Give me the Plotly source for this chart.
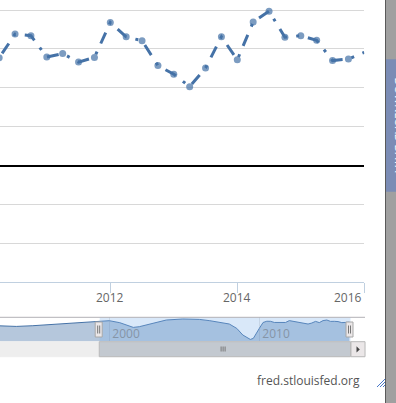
import plotly.graph_objects as go

W, H = 396, 403

# ---------------- data ----------------
# main series (quarterly, decimal years)
dates = [2010.25, 2010.5, 2010.75, 2011.0, 2011.25, 2011.5, 2011.75, 2012.0,
         2012.25, 2012.5, 2012.75, 2013.0, 2013.25, 2013.5, 2013.75, 2014.0,
         2014.25, 2014.5, 2014.75, 2015.0, 2015.25, 2015.5, 2015.75, 2016.0]
values = [2.77, 3.38, 3.34, 2.79, 2.88, 2.66, 2.78, 3.68,
          3.31, 3.21, 2.57, 2.35, 2.03, 2.51, 3.31, 2.72,
          3.69, 3.97, 3.30, 3.34, 3.22, 2.70, 2.74, 2.91]

# navigator history (earlier part of the same series, read from the navigator)
nav_dates = [1992.5, 1993.8, 1994.9, 1996.0, 1997.2, 1998.3, 1999.3, 2000.0,
             2000.7, 2001.6, 2002.0, 2002.7, 2003.4, 2003.8, 2004.9, 2006.0,
             2006.7, 2007.4, 2008.0, 2008.5, 2008.9, 2009.4, 2009.6, 2010.0]
nav_values = [1.2, 0.87, 1.21, 1.70, 2.18, 2.57, 3.11, 3.64,
              2.67, 0.39, 0.73, 2.04, 3.16, 3.98, 4.47, 4.27,
              3.64, 2.67, 2.04, -0.10, -3.30, -5.44, -4.95, -0.10]

x_ticks = [2012, 2014, 2016]
nav_ticks = [2000, 2010]

# view state
main_range = [2010.263, 2016.0]
y_range = [-3.0, 4.257]
nav_range = [1992.713, 2017.047]
nav_floor, nav_ceil = -6.55, 5.29
sel_start, sel_end = 1999.36, 2016.08

# ---------------- styling ----------------
BLUE = "#4572A7"
FONT = "Open Sans"
DASH = "0px,5.3px,12px,9px,3px,3.7px"   # Highcharts DashDot at width 3


def px(x):
    return x / W


def py(y):
    return 1 - y / H


marker_sizes = [7 if t < main_range[1] - 1e-6 else 0 for t in dates]

fig = go.Figure()

fig.add_trace(go.Scatter(
    x=dates, y=values, mode="lines+markers",
    line=dict(color=BLUE, width=3, dash=DASH),
    marker=dict(size=marker_sizes, color=BLUE, line=dict(width=0)),
    xaxis="x", yaxis="y", hoverinfo="skip", showlegend=False))

nav_x = nav_dates + dates
nav_y = [v - nav_floor for v in nav_values + values]
fig.add_trace(go.Scatter(
    x=nav_x, y=nav_y, mode="lines",
    line=dict(color=BLUE, width=1),
    fill="tozeroy", fillcolor="rgba(69,114,167,0.4)",
    xaxis="x2", yaxis="y2", hoverinfo="skip", showlegend=False))

shapes = []
# navigator selection mask
shapes.append(dict(type="rect", xref="x2", yref="paper", x0=sel_start, x1=sel_end,
                   y0=py(341.7), y1=py(317.3), fillcolor="rgba(128,179,236,0.3)",
                   line=dict(width=0), layer="above"))
# navigator top outline
shapes.append(dict(type="line", xref="paper", yref="paper", x0=0, x1=px(365),
                   y0=py(317.3), y1=py(317.3), line=dict(color="#b2b1b6", width=1)))
# scrollbar track
shapes.append(dict(type="rect", xref="paper", yref="paper", x0=0, x1=px(365),
                   y0=py(356.7), y1=py(341.7), fillcolor="#eeeeee",
                   line=dict(color="#eeeeee", width=1)))
# scrollbar thumb
shapes.append(dict(type="rect", xref="x2", yref="paper", x0=sel_start - 0.03, x1=sel_end,
                   y0=py(356.7), y1=py(341.7), fillcolor="#c3c9d0",
                   line=dict(color="#bbbbbb", width=1)))
# grip
thumb_c = (sel_start + sel_end) / 2
for off in (-4, -2, 0):
    shapes.append(dict(type="line", xref="x2", yref="paper", xsizemode="pixel",
                       xanchor=thumb_c, x0=off, x1=off, y0=py(351.5), y1=py(346.5),
                       line=dict(color="#777777", width=1)))
# right button
shapes.append(dict(type="rect", xref="paper", yref="paper", x0=px(351), x1=px(365),
                   y0=py(356.7), y1=py(341.7), fillcolor="#ebe7e8",
                   line=dict(color="#bbbbbb", width=1)))
shapes.append(dict(type="path", xref="paper", yref="paper",
                   path=f"M {px(356.5)} {py(346.3)} L {px(356.5)} {py(352.5)} L {px(359.8)} {py(349.4)} Z",
                   fillcolor="#444444", line=dict(width=0)))
# handles
for edge in (sel_start, sel_end):
    shapes.append(dict(type="rect", xref="x2", yref="paper", xsizemode="pixel",
                       xanchor=edge, x0=-4.5, x1=2.5, y0=py(337), y1=py(322),
                       fillcolor="#ebe7e8", line=dict(color="#a8a8a8", width=1)))
    for off in (-2, 0):
        shapes.append(dict(type="line", xref="x2", yref="paper", xsizemode="pixel",
                           xanchor=edge, x0=off, x1=off, y0=py(333.5), y1=py(325.5),
                           line=dict(color="#777777", width=1)))
# right-side gray panel with tab
shapes.append(dict(type="rect", xref="paper", yref="paper", x0=px(385), x1=1.02,
                   y0=-0.02, y1=1.02, fillcolor="#a0a0a0", line=dict(width=0)))
shapes.append(dict(type="line", xref="paper", yref="paper", x0=px(385.5), x1=px(385.5),
                   y0=-0.02, y1=1.02, line=dict(color="#5a5a5a", width=1)))
shapes.append(dict(type="rect", xref="paper", yref="paper", x0=px(386), x1=1.02,
                   y0=py(191.7), y1=py(59.3), fillcolor="#7b8cb5", line=dict(width=0)))
# resize grip
for (x0, y0, x1, y1) in [(377, 387, 385, 379), (380, 387, 385, 382), (383, 387, 385, 385)]:
    shapes.append(dict(type="line", xref="paper", yref="paper", x0=px(x0), y0=py(y0),
                       x1=px(x1), y1=py(y1), line=dict(color="#4a78c8", width=1)))

annotations = []
for i, v in enumerate(x_ticks):
    annotations.append(dict(x=v, xref="x", y=py(297.7), yref="paper", text=str(v),
                            showarrow=False, xanchor="right" if i == len(x_ticks) - 1 else "center",
                            yanchor="middle", font=dict(family=FONT, size=12, color="#666666")))
annotations.append(dict(x=px(361.5), xref="paper", y=py(380), yref="paper",
                        text="fred.stlouisfed.org", showarrow=False, xanchor="right",
                        yanchor="middle", font=dict(family=FONT, size=12, color="#555555")))
annotations.append(dict(x=px(398.5), xref="paper", y=py(125), yref="paper",
                        text="DOWNLOAD DATA", showarrow=False, textangle=90,
                        xanchor="center", yanchor="middle",
                        font=dict(family=FONT, size=11, color="#ffffff")))

fig.update_layout(
    width=W, height=H, margin=dict(l=0, r=0, t=0, b=0),
    paper_bgcolor="white", plot_bgcolor="white",
    showlegend=False, shapes=shapes, annotations=annotations,
    font=dict(family=FONT),
    xaxis=dict(domain=[0, px(364.3)], range=main_range, tickvals=x_ticks,
               showticklabels=False, ticks="outside", ticklen=10, tickcolor="#C0D0E0",
               showline=True, linecolor="#C0D0E0", linewidth=1, showgrid=False,
               zeroline=False, fixedrange=True, anchor="y"),
    yaxis=dict(domain=[py(282.3), 1], range=y_range, dtick=1, tick0=0,
               showticklabels=False, showgrid=True, gridcolor="#D8D8D8", gridwidth=1,
               zeroline=True, zerolinecolor="black", zerolinewidth=2,
               showline=False, fixedrange=True, anchor="x"),
    xaxis2=dict(domain=[0, px(365)], range=nav_range, tickvals=nav_ticks,
                ticktext=[str(t) for t in nav_ticks], ticklabelposition="inside right",
                ticklabelstandoff=-5, ticklabelshift=3,
                tickfont=dict(family=FONT, size=12, color="#888888"),
                ticks="", showline=False, showgrid=True, gridcolor="#e4e4e4",
                zeroline=False, fixedrange=True, anchor="y2"),
    yaxis2=dict(domain=[py(341.7), py(317.3)], range=[0, nav_ceil - nav_floor],
                showticklabels=False, showgrid=False, zeroline=False,
                fixedrange=True, anchor="x2"),
)

fig.write_html("out.html", config={"displayModeBar": False},
               post_script="document.body.style.margin='0';document.body.style.overflow='hidden';")
